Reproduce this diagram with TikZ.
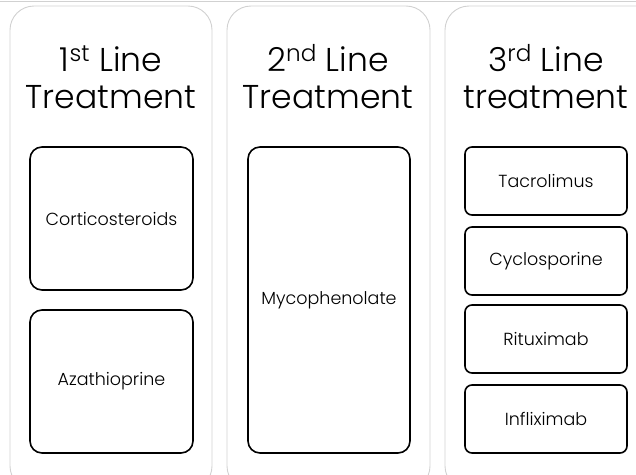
\documentclass[tikz,border=0pt]{standalone}
\usepackage{fontspec}
\IfFontExistsTF{Poppins Light}{\setmainfont{Poppins Light}}{\setmainfont{Poppins}}
\begin{document}
\begin{tikzpicture}[x=1pt,y=-1pt,
  panel/.style={draw=black!18,line width=0.9pt,rounded corners=24pt},
  drug/.style={draw=black,line width=1.6pt,rounded corners=12pt,align=center,font=\fontsize{17.5}{20}\selectfont},
  sdrug/.style={draw=black,line width=1.6pt,rounded corners=7pt,align=center,font=\fontsize{17.5}{20}\selectfont},
  title/.style={align=center,font=\fontsize{33}{37}\selectfont,inner sep=0pt}]
\useasboundingbox (0,0) rectangle (636,474);
\clip (0,0) rectangle (636,474);
\draw[black!18,line width=0.9pt] (0,1) -- (636,1);
% panels
\draw[panel] (10,6) rectangle (212,490);
\draw[panel] (227,6) rectangle (430,490);
\draw[panel] (445,6) rectangle (660,490);
% titles
\node[title,anchor=base] (t1) at (111,108) {1\textsuperscript{st} Line\\Treatment};
\node[title,anchor=base] (t2) at (328,108) {2\textsuperscript{nd} Line\\Treatment};
\node[title,anchor=base] (t3) at (546,108) {3\textsuperscript{rd} Line\\treatment};
% boxes panel 1
\node[drug,minimum width=163pt,minimum height=143pt] (cort) at (111.5,218.5) {Corticosteroids};
\node[drug,minimum width=163pt,minimum height=143pt] (aza) at (111.5,381.5) {Azathioprine};
% panel 2
\node[drug,minimum width=162pt,minimum height=306pt] (myco) at (329,300) {Mycophenolate};
% panel 3
\node[sdrug,minimum width=162pt,minimum height=68pt] (tac) at (546,181) {Tacrolimus};
\node[sdrug,minimum width=162pt,minimum height=68pt] (cyc) at (546,261) {Cyclosporine};
\node[sdrug,minimum width=162pt,minimum height=68pt] (rit) at (546,339) {Rituximab};
\node[sdrug,minimum width=162pt,minimum height=68pt] (inf) at (546,419) {Infliximab};
\end{tikzpicture}
\end{document}
